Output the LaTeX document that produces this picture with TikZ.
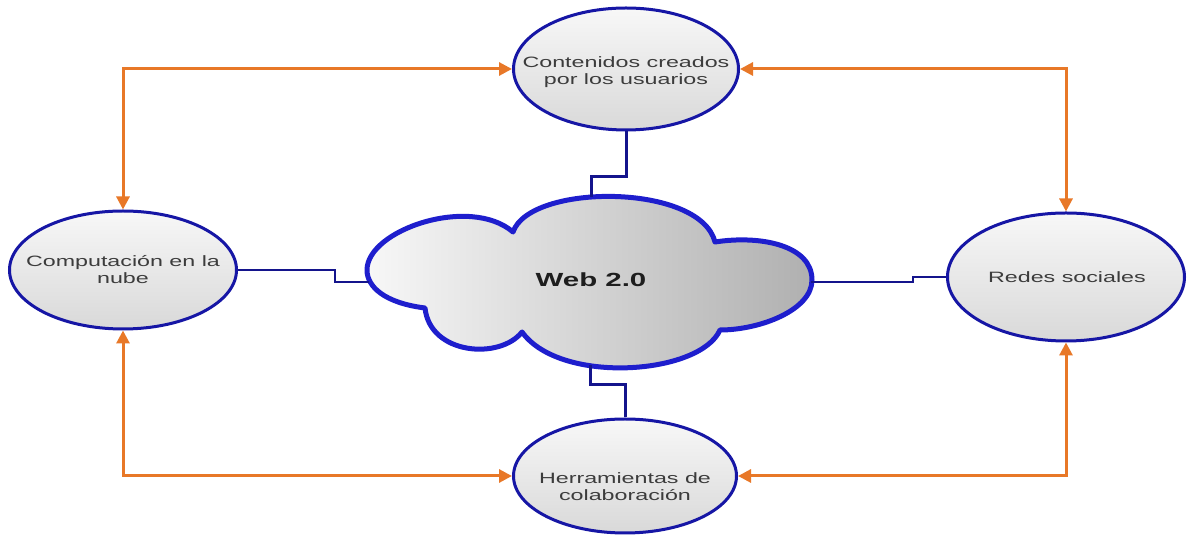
\documentclass[tikz,border=0pt]{standalone}
\usepackage{fontspec}
\setmainfont{Liberation Sans}
\usetikzlibrary{shapes.geometric,arrows.meta}
\definecolor{ebl}{RGB}{22,22,165}
\definecolor{cbl}{RGB}{30,30,205}
\definecolor{lnb}{RGB}{20,20,140}
\definecolor{org}{RGB}{232,120,40}
\definecolor{txt}{RGB}{60,60,60}
\newcommand{\stx}[1]{\scalebox{1.55}[1]{#1}}
\tikzset{
  bubble/.style={ellipse, draw=ebl, line width=3pt, inner sep=0pt,
    top color=gray!6, bottom color=gray!30},
  btxt/.style={text=txt, align=center, inner sep=0pt,
    font=\fontsize{15}{17}\selectfont},
  orarrow/.style={draw=org, line width=3pt,
    {Triangle[length=13pt,width=13pt]}-{Triangle[length=13pt,width=13pt]}},
  blink/.style={draw=lnb, line width=2.5pt}
}
\begin{document}
\begin{tikzpicture}[x=1pt,y=1pt]
\useasboundingbox (0,0) rectangle (1187,535);
\clip (0,0) rectangle (1187,535);
% ellipses
\node[bubble, minimum width=225pt, minimum height=122pt] (top) at (626,466) {};
\node[btxt] (toptxt) at (626,463) {\stx{Contenidos creados}\\\stx{por los usuarios}};
\node[bubble, minimum width=227pt, minimum height=118pt] (left) at (123,265) {};
\node[btxt] (lefttxt) at (123,265) {\stx{Computación en la}\\\stx{nube}};
\node[bubble, minimum width=237pt, minimum height=128pt] (right) at (1066,258) {};
\node[btxt] (righttxt) at (1067,258) {\stx{Redes sociales}};
\node[bubble, minimum width=223pt, minimum height=114pt] (herr) at (625,59) {};
\node[btxt] (herrtxt) at (625,48) {\stx{Herramientas de}\\\stx{colaboración}};
% cloud
\draw[draw=cbl, line width=5pt, line join=round, left color=gray!6, right color=gray!62]
  (425,227) .. controls (385,232) and (367,248) .. (367,265)
  .. controls (367,305) and (470,340) .. (513,303)
  .. controls (530,352) and (700,352) .. (715,293)
  .. controls (760,300) and (812,290) .. (812,255)
  .. controls (812,225) and (760,205) .. (720,205)
  .. controls (700,160) and (560,150) .. (522,203)
  .. controls (500,175) and (430,180) .. (425,227) -- cycle;
\node[font=\bfseries\fontsize{19}{21}\selectfont, text={rgb,255:red,30;green,30;blue,30}] (web) at (591,255) {\stx{Web 2.0}};
\coordinate (cT) at (591,338);
\coordinate (cB) at (590,170);
\coordinate (cL) at (369,253);
\coordinate (cR) at (811,253);
% blue connectors
\coordinate (j1) at (591,358);
\coordinate (j2) at (335,253);
\coordinate (j3) at (913,258);
\coordinate (j4) at (625,150);
\draw[blink, line width=3pt] (top.south) |- (j1) -- (cT);
\draw[blink] (left.east) -| (j2) -- (cL);
\draw[blink] (cR) -| (j3) -- (right.west);
\draw[blink, line width=3pt] (cB) |- (j4) -- (herr.north);
% orange arrows
\draw[orarrow] (top.west) -| (left.north);
\draw[orarrow] (top.east) -| (right.north);
\draw[orarrow] (left.south) |- (herr.west);
\draw[orarrow] (right.south) |- (herr.east);
\end{tikzpicture}
\end{document}
